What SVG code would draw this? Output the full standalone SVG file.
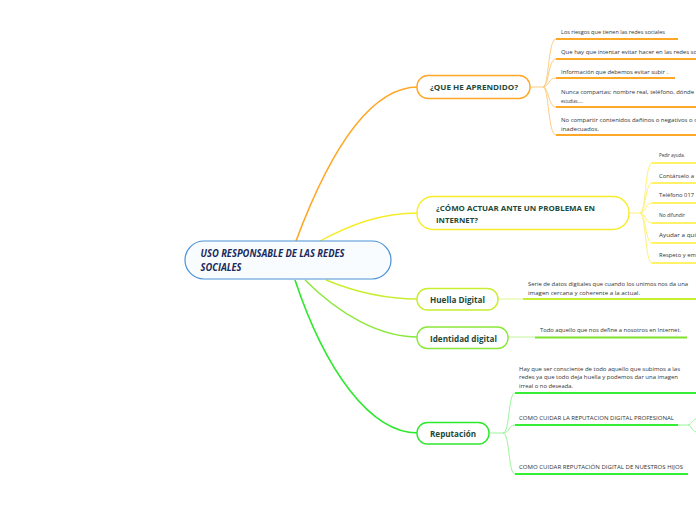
<svg xmlns="http://www.w3.org/2000/svg" width="696" height="520" viewBox="0 0 696 520">
<style>
.node{font-family:"Open Sans","DejaVu Sans",sans-serif;font-weight:bold;fill:#1d4a3a}
.leaf{font-family:"Open Sans","DejaVu Sans",sans-serif;font-size:6px;fill:#333}
.c{fill:none}
</style>
<rect width="696" height="520" fill="#fff"/>
<g id="connectors" class="c">
  <path d="M296,241 C330,150 370,87 418,87" stroke="#ffa726" stroke-width="1.6"/>
  <path d="M320,241 C350,225 380,213 418,213" stroke="#f7ec2a" stroke-width="1.4"/>
  <path d="M326,280 C355,292 385,299 418,299" stroke="#c8ee30" stroke-width="1.4"/>
  <path d="M305,280 C340,315 380,337 418,337" stroke="#8ae83a" stroke-width="1.4"/>
  <path d="M295,280 C325,370 370,433 418,433" stroke="#2ee82e" stroke-width="1.6"/>
  <!-- orange children -->
  <g stroke="#ffcc80" stroke-width="1">
    <path d="M530,87 L543,87"/>
    <path d="M543,87 C549,87 548,39 556,39"/>
    <path d="M543,87 C549,87 548,59 556,59"/>
    <path d="M543,87 C549,87 548,78 556,78"/>
    <path d="M543,87 C549,87 548,107 556,107"/>
    <path d="M543,87 C549,87 548,135 556,135"/>
  </g>
  <g stroke="#ffa726" stroke-width="2">
    <path d="M556,39 H678"/>
    <path d="M556,59 H696"/>
    <path d="M556,78 H675"/>
    <path d="M556,107 H696"/>
    <path d="M556,135 H696"/>
  </g>
  <!-- yellow children -->
  <g stroke="#fff176" stroke-width="1">
    <path d="M629,213 L640,213"/>
    <path d="M640,213 C646,213 645,163 652,163"/>
    <path d="M640,213 C646,213 645,183 652,183"/>
    <path d="M640,213 C646,213 645,203 652,203"/>
    <path d="M640,213 C646,213 645,223 652,223"/>
    <path d="M640,213 C646,213 645,243 652,243"/>
    <path d="M640,213 C646,213 645,263 652,263"/>
  </g>
  <g stroke="#ffee33" stroke-width="1.6">
    <path d="M652,163 H696"/>
    <path d="M652,183 H696"/>
    <path d="M652,203 H696"/>
    <path d="M652,223 H696"/>
    <path d="M652,243 H696"/>
    <path d="M652,263 H696"/>
  </g>
  <!-- huella -->
  <path d="M498,299 H523" stroke="#e0f890" stroke-width="1"/>
  <path d="M523,299 H696" stroke="#c8ee30" stroke-width="1.8"/>
  <!-- identidad -->
  <path d="M508,337 H535" stroke="#c0f49a" stroke-width="1"/>
  <path d="M535,337.5 H687" stroke="#7ee22e" stroke-width="1.8"/>
  <!-- reputacion -->
  <g stroke="#9af59a" stroke-width="1">
    <path d="M489,433 L503,433"/>
    <path d="M503,433 C510,433 508,393 515,393"/>
    <path d="M503,433 C510,433 508,425 515,425"/>
    <path d="M503,433 C510,433 508,474 515,474"/>
    <path d="M678,425 L688,425 C691,425 692,420 696,419"/>
    <path d="M688,425 C691,425 692,431 696,432"/>
  </g>
  <g stroke="#33ee33" stroke-width="2">
    <path d="M515,393 H696"/>
    <path d="M515,425 H678"/>
    <path d="M515,474 H688"/>
  </g>
</g>
<g id="central">
  <rect x="185" y="241" width="206" height="38" rx="19" fill="#f8fcff" stroke="#4a92d6" stroke-width="1.2"/>
  <text x="200.5" y="257" font-family="Open Sans, DejaVu Sans, sans-serif" font-weight="bold" font-style="italic" font-size="10" fill="#1b2a5c" textLength="144" lengthAdjust="spacingAndGlyphs">USO RESPONSABLE DE LAS REDES</text>
  <text x="200.5" y="270.5" font-family="Open Sans, DejaVu Sans, sans-serif" font-weight="bold" font-style="italic" font-size="10" fill="#1b2a5c" textLength="41" lengthAdjust="spacingAndGlyphs">SOCIALES</text>
</g>
<g id="aprendido">
  <rect x="417" y="75.5" width="113" height="23" rx="11" fill="#fff" stroke="#ffa726" stroke-width="1.4"/>
  <text class="node" x="430" y="90" font-size="7.8" textLength="88" lengthAdjust="spacingAndGlyphs">¿QUE HE APRENDIDO?</text>
</g>
<g id="aprendido-hijos">
  <text class="leaf" x="561" y="34" textLength="104" lengthAdjust="spacingAndGlyphs">Los riesgos que tienen las redes sociales</text>
  <text class="leaf" x="561" y="54" textLength="136" lengthAdjust="spacingAndGlyphs">Que hay que intentar evitar hacer en las redes so</text>
  <text class="leaf" x="561" y="74" textLength="107" lengthAdjust="spacingAndGlyphs">Información que debemos evitar subir .</text>
  <text class="leaf" x="561" y="94" textLength="133" lengthAdjust="spacingAndGlyphs">Nunca compartas: nombre real, teléfono, dónde</text>
  <text class="leaf" x="561" y="102.5" textLength="22" lengthAdjust="spacingAndGlyphs">estudias…..</text>
  <text class="leaf" x="561" y="122" textLength="136" lengthAdjust="spacingAndGlyphs">No compartir contenidos dañinos o negativos o c</text>
  <text class="leaf" x="561" y="131" textLength="38" lengthAdjust="spacingAndGlyphs">inadecuados.</text>
</g>
<g id="como-actuar">
  <rect x="417" y="196.5" width="212" height="33" rx="16" fill="#fff" stroke="#f7ec2a" stroke-width="1.4"/>
  <text class="node" x="436" y="211" font-size="7.8" textLength="159" lengthAdjust="spacingAndGlyphs">¿CÓMO ACTUAR ANTE UN PROBLEMA EN</text>
  <text class="node" x="436" y="223" font-size="7.8" textLength="42" lengthAdjust="spacingAndGlyphs">INTERNET?</text>
</g>
<g id="como-actuar-hijos">
  <text class="leaf" x="659" y="157" textLength="26" lengthAdjust="spacingAndGlyphs">Pedir ayuda.</text>
  <text class="leaf" x="659" y="178" textLength="35" lengthAdjust="spacingAndGlyphs">Contárselo a</text>
  <text class="leaf" x="659" y="197" textLength="35" lengthAdjust="spacingAndGlyphs">Teléfono 017</text>
  <text class="leaf" x="659" y="217" textLength="26" lengthAdjust="spacingAndGlyphs">No difundir</text>
  <text class="leaf" x="659" y="237" textLength="37" lengthAdjust="spacingAndGlyphs">Ayudar a qui</text>
  <text class="leaf" x="659" y="257" textLength="37" lengthAdjust="spacingAndGlyphs">Respeto y em</text>
</g>
<g id="huella">
  <rect x="417" y="288.5" width="81" height="21.5" rx="10.5" fill="#fff" stroke="#c8ee30" stroke-width="1.4"/>
  <text class="node" x="430" y="302.5" font-size="8.8" textLength="55" lengthAdjust="spacingAndGlyphs">Huella Digital</text>
  <text class="leaf" x="528" y="286" textLength="160" lengthAdjust="spacingAndGlyphs">Serie de datos  digitales que  cuando los unimos nos da una</text>
  <text class="leaf" x="528" y="295" textLength="112" lengthAdjust="spacingAndGlyphs">imagen cercana  y coherente a la actual.</text>
</g>
<g id="identidad">
  <rect x="417" y="327" width="91" height="21.5" rx="10.5" fill="#fff" stroke="#8ae83a" stroke-width="1.4"/>
  <text class="node" x="430" y="341.5" font-size="8.8" textLength="67" lengthAdjust="spacingAndGlyphs">Identidad digital</text>
  <text class="leaf" x="540" y="332" textLength="141" lengthAdjust="spacingAndGlyphs">Todo aquello que nos define a nosotros en Internet.</text>
</g>
<g id="reputacion">
  <rect x="417" y="422.5" width="72" height="21.5" rx="10.5" fill="#fff" stroke="#2ee82e" stroke-width="1.4"/>
  <text class="node" x="430" y="437" font-size="8.8" textLength="46" lengthAdjust="spacingAndGlyphs">Reputación</text>
  <text class="leaf" x="519" y="370.5" textLength="161" lengthAdjust="spacingAndGlyphs">Hay que ser consciente de todo aquello que subimos a las</text>
  <text class="leaf" x="519" y="379" textLength="159" lengthAdjust="spacingAndGlyphs">redes ya que todo deja huella y podemos dar una imagen</text>
  <text class="leaf" x="519" y="388" textLength="54" lengthAdjust="spacingAndGlyphs">irreal o no deseada.</text>
  <text class="leaf" x="519" y="419.5" textLength="155" lengthAdjust="spacingAndGlyphs">COMO CUIDAR LA REPUTACION DIGITAL PROFESIONAL</text>
  <text class="leaf" x="519" y="469" textLength="164" lengthAdjust="spacingAndGlyphs">COMO CUIDAR REPUTACIÓN DIGITAL DE NUESTROS HIJOS</text>
</g>
</svg>
